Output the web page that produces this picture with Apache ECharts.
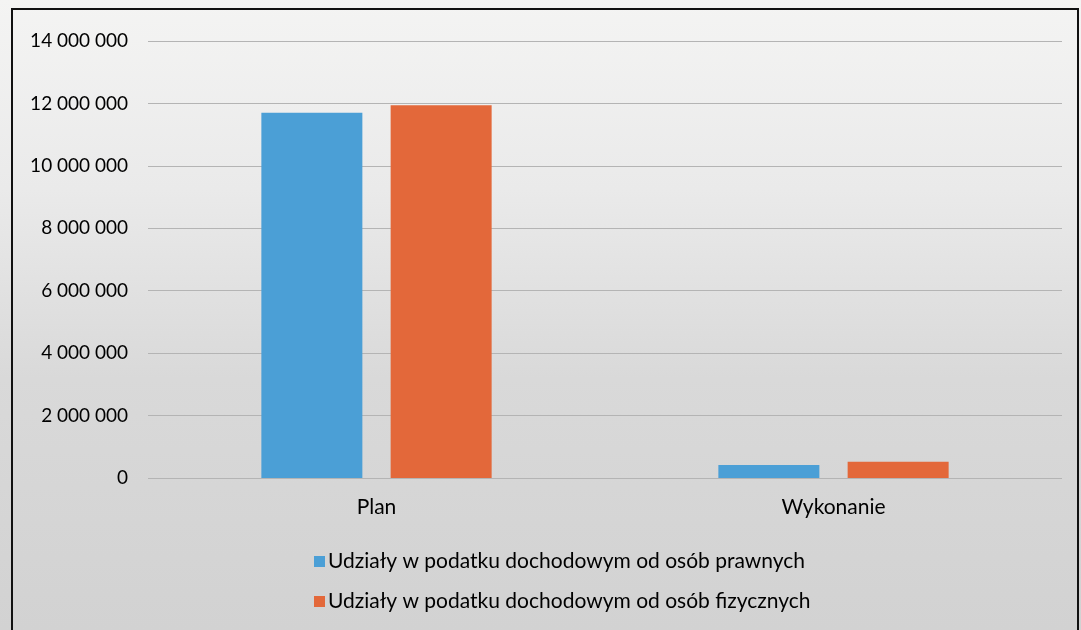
<!DOCTYPE html>
<html>
<head>
<meta charset="utf-8">
<script src="https://cdn.jsdelivr.net/npm/echarts@6/dist/echarts.min.js"></script>
<style>
  html, body {
    margin: 0;
    padding: 0;
    width: 1081px;
    height: 630px;
    overflow: hidden;
    background: linear-gradient(180deg, #f4f4f3 0%, #eaeaea 30%, #d9d9d9 60%, #d2d2d2 100%);
  }
  .frame {
    position: absolute;
    left: 11px;
    top: 8px;
    width: 1064px;
    height: 640px;
    border-left: 2px solid #111;
    border-top: 2px solid #111;
    border-right: 2px solid #111;
  }
  #chart {
    position: absolute;
    left: 0;
    top: 0;
    width: 1081px;
    height: 630px;
  }
</style>
</head>
<body>
<div class="frame"></div>
<div id="chart"></div>
<script>
  const categories = ['Plan', 'Wykonanie']
  const seriesNames = [
    'Udziały w podatku dochodowym od osób prawnych',
    'Udziały w podatku dochodowym od osób fizycznych'
  ]
  const prawnych = [11700000, 420000]
  const fizycznych = [11940000, 520000]
  const yTicks = [0, 2000000, 4000000, 6000000, 8000000, 10000000, 12000000, 14000000]

  function fmt(v) {
    return String(v).replace(/\B(?=(\d{3})+(?!\d))/g, ' ')
  }

  const font = 'Lato, "Open Sans", sans-serif'
  const chart = echarts.init(document.getElementById('chart'))
  chart.setOption({
    animation: false,
    textStyle: { fontFamily: font },
    grid: {
      left: 148,
      right: 19,
      top: 41,
      bottom: 152
    },
    legend: {
      orient: 'vertical',
      left: 309,
      top: 546,
      itemWidth: 11,
      itemHeight: 11,
      itemGap: 19,
      icon: 'rect',
      selectedMode: false,
      textStyle: {
        fontFamily: font,
        fontSize: 21,
        color: '#000',
        padding: [0, 0, 0, -2]
      },
      data: seriesNames
    },
    xAxis: {
      type: 'category',
      data: categories,
      axisLine: { show: false },
      axisTick: { show: false },
      axisLabel: {
        fontFamily: font,
        fontSize: 21,
        color: '#000',
        margin: 19
      }
    },
    yAxis: {
      type: 'value',
      min: yTicks[0],
      max: yTicks[yTicks.length - 1],
      interval: 2000000,
      axisLine: { show: false },
      axisTick: { show: false },
      splitLine: {
        lineStyle: { color: '#b4b4b4', width: 1 }
      },
      axisLabel: {
        fontFamily: font,
        fontSize: 19,
        color: '#000',
        margin: 20,
        formatter: function (v) {
          return fmt(v)
        }
      }
    },
    series: [
      {
        name: seriesNames[0],
        type: 'bar',
        barWidth: 101,
        barGap: '28%',
        itemStyle: { color: '#4b9fd6' },
        data: prawnych
      },
      {
        name: seriesNames[1],
        type: 'bar',
        barWidth: 101,
        barGap: '28%',
        itemStyle: { color: '#e3683a' },
        data: fizycznych
      }
    ]
  })
</script>
</body>
</html>
